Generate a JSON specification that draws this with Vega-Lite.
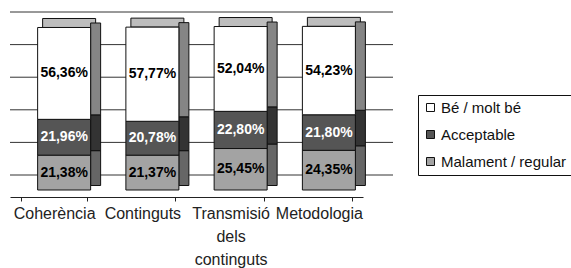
{
  "$schema": "https://vega.github.io/schema/vega-lite/v6.json",
  "autosize": {"type": "none"},
  "width": 353,
  "height": 163,
  "padding": {"left": 10, "top": 27, "right": 208, "bottom": 78},
  "background": "white",
  "config": {
    "view": {"stroke": null},
    "font": "Liberation Sans",
    "locale": {"number": {"decimal": ",", "thousands": ".", "grouping": [3], "currency": ["", " €"]}}
  },
  "datasets": {
    "bars": [
      {"cat": "Coherència", "serie": "Malament / regular", "ord": 1, "pct": 0.2138},
      {"cat": "Coherència", "serie": "Acceptable", "ord": 2, "pct": 0.2196},
      {"cat": "Coherència", "serie": "Bé / molt bé", "ord": 3, "pct": 0.5636},
      {"cat": "Continguts", "serie": "Malament / regular", "ord": 1, "pct": 0.2137},
      {"cat": "Continguts", "serie": "Acceptable", "ord": 2, "pct": 0.2078},
      {"cat": "Continguts", "serie": "Bé / molt bé", "ord": 3, "pct": 0.5777},
      {"cat": "Transmisió dels continguts", "serie": "Malament / regular", "ord": 1, "pct": 0.2545},
      {"cat": "Transmisió dels continguts", "serie": "Acceptable", "ord": 2, "pct": 0.2280},
      {"cat": "Transmisió dels continguts", "serie": "Bé / molt bé", "ord": 3, "pct": 0.5204},
      {"cat": "Metodologia", "serie": "Malament / regular", "ord": 1, "pct": 0.2435},
      {"cat": "Metodologia", "serie": "Acceptable", "ord": 2, "pct": 0.2180},
      {"cat": "Metodologia", "serie": "Bé / molt bé", "ord": 3, "pct": 0.5423}
    ],
    "grid": [{"g": 0}, {"g": 0.2}, {"g": 0.4}, {"g": 0.6}, {"g": 0.8}, {"g": 1}]
  },
  "layer": [
    {
      "data": {"name": "grid"},
      "mark": {"type": "rule", "stroke": "#333333", "strokeWidth": 1, "xOffset": 30},
      "encoding": {
        "y": {"field": "g", "type": "quantitative", "scale": {"domain": [-0.092, 0.908], "nice": false, "zero": false}, "axis": null}
      }
    },
    {
      "data": {"name": "bars"},
      "layer": [
        {
          "mark": {"type": "tick", "orient": "horizontal", "thickness": 9, "size": 53, "xOffset": 15, "yOffset": -4.5, "color": "#bdbdbd", "stroke": "#111111", "strokeWidth": 1, "opacity": 1},
          "encoding": {
            "x": {"field": "cat", "type": "nominal", "sort": null},
            "y": {"aggregate": "sum", "field": "pct", "type": "quantitative", "scale": {"domain": [0, 1], "nice": false}, "axis": null}
          }
        },
        {
          "mark": {"type": "bar", "size": 10, "xOffset": 41.5, "yOffset": -4.5, "stroke": "#111111", "strokeWidth": 1},
          "encoding": {
            "x": {"field": "cat", "type": "nominal", "sort": null},
            "y": {"field": "pct", "type": "quantitative", "stack": "zero", "scale": {"domain": [0, 1], "nice": false}, "axis": null},
            "order": {"field": "ord", "type": "quantitative"},
            "fill": {
              "condition": [
                {"test": "datum.serie == 'Bé / molt bé'", "value": "#858585"},
                {"test": "datum.serie == 'Acceptable'", "value": "#333333"}
              ],
              "value": "#666666"
            }
          }
        },
        {
          "mark": {"type": "bar", "size": 53, "xOffset": 10, "stroke": "#111111", "strokeWidth": 1},
          "encoding": {
            "x": {
              "field": "cat", "type": "nominal", "sort": null, "title": null,
              "axis": {
                "offset": 7, "tickBand": "extent", "tickSize": 4, "tickColor": "#222222", "domainColor": "#222222",
                "labelAngle": 0, "labelAlign": "center", "labelBaseline": "top", "labelFontSize": 16, "labelColor": "#222222", "labelPadding": 4, "labelLineHeight": 23,
                "labelExpr": "datum.value == 'Transmisió dels continguts' ? ['Transmisió', 'dels', 'continguts'] : datum.label"
              }
            },
            "y": {"field": "pct", "type": "quantitative", "stack": "zero", "scale": {"domain": [0, 1], "nice": false}, "axis": null},
            "order": {"field": "ord", "type": "quantitative"},
            "color": {
              "field": "serie", "type": "nominal",
              "scale": {"domain": ["Bé / molt bé", "Acceptable", "Malament / regular"], "range": ["#ffffff", "#555555", "#a3a3a3"]},
              "legend": {
                "title": null, "orient": "none", "legendX": 408, "legendY": 68,
                "symbolType": "square", "symbolSize": 64, "symbolStrokeColor": "#111111", "symbolStrokeWidth": 1,
                "labelFontSize": 15, "labelColor": "#111111", "rowPadding": 11, "labelOffset": 3,
                "strokeColor": "#111111", "padding": 5, "fillColor": "white"
              }
            }
          }
        },
        {
          "mark": {"type": "text", "xOffset": 10, "fontSize": 14, "fontWeight": "bold"},
          "encoding": {
            "x": {"field": "cat", "type": "nominal", "sort": null},
            "y": {"field": "pct", "type": "quantitative", "stack": "zero", "bandPosition": 0.5, "scale": {"domain": [0, 1], "nice": false}, "axis": null},
            "order": {"field": "ord", "type": "quantitative"},
            "text": {"field": "pct", "type": "quantitative", "format": ".2%"},
            "color": {
              "condition": {"test": "datum.serie == 'Acceptable'", "value": "white"},
              "value": "black"
            }
          }
        }
      ]
    }
  ],
  "resolve": {"scale": {"y": "independent"}}
}
